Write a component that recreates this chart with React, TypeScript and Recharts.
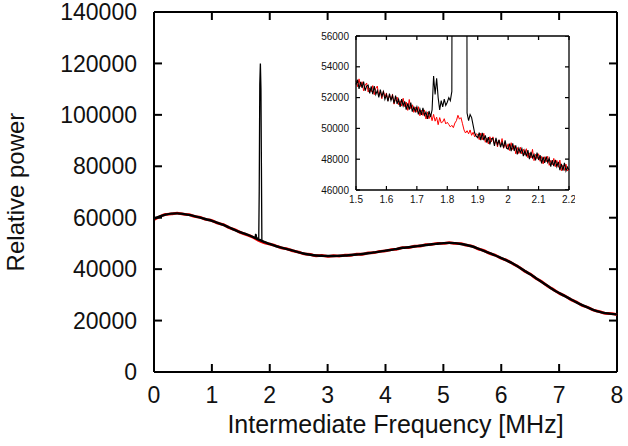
import React from "react";
import { LineChart, Line, XAxis, YAxis, Label, ReferenceLine } from "recharts";

const FONT = '"Liberation Sans", Arial, Helvetica, sans-serif';

// main panel: relative power vs IF, sampled every 0.1 MHz
const MAIN_FREQ = [
  0, 0.1, 0.2, 0.3, 0.4, 0.5, 0.6, 0.7, 0.8, 0.9,
  1, 1.1, 1.2, 1.3, 1.4, 1.5, 1.6, 1.7, 1.8, 1.9,
  2, 2.1, 2.2, 2.3, 2.4, 2.5, 2.6, 2.7, 2.8, 2.9,
  3, 3.1, 3.2, 3.3, 3.4, 3.5, 3.6, 3.7, 3.8, 3.9,
  4, 4.1, 4.2, 4.3, 4.4, 4.5, 4.6, 4.7, 4.8, 4.9,
  5, 5.1, 5.2, 5.3, 5.4, 5.5, 5.6, 5.7, 5.8, 5.9,
  6, 6.1, 6.2, 6.3, 6.4, 6.5, 6.6, 6.7, 6.8, 6.9,
  7, 7.1, 7.2, 7.3, 7.4, 7.5, 7.6, 7.7, 7.8, 7.9,
  8,
];
const MAIN_BLACK = [
  59600, 60500, 61200, 61600, 61700, 61500, 61100, 60600, 60000, 59400,
  58800, 58000, 57200, 56200, 55200, 54300, 53500, 52600, 51600, 50600,
  49800, 49000, 48400, 47800, 47200, 46500, 46000, 45600, 45300, 45200,
  45100, 45100, 45200, 45300, 45500, 45700, 45900, 46200, 46500, 46800,
  47200, 47500, 47900, 48300, 48500, 48800, 49100, 49400, 49700, 49900,
  50100, 50200, 50100, 49800, 49400, 48800, 48000, 47100, 46200, 45300,
  44300, 43300, 42200, 40800, 39400, 38000, 36500, 35000, 33500, 32000,
  30700, 29500, 28300, 27100, 26000, 25000, 24100, 23400, 22900, 22600,
  22400,
];
const MAIN_RED = [
  59300, 60400, 61300, 61500, 61800, 61400, 61200, 60500, 60100, 59300,
  58900, 57900, 57300, 56100, 55300, 54200, 53400, 52500, 51200, 50300,
  49700, 49100, 48300, 47900, 47100, 46600, 45900, 45700, 45200, 45300,
  45000, 45200, 45100, 45400, 45400, 45800, 45800, 46300, 46400, 46900,
  47100, 47600, 47800, 48400, 48400, 48900, 49000, 49500, 49600, 50000,
  50000, 50300, 50000, 49900, 49300, 48900, 47900, 47200, 46100, 45400,
  44200, 43400, 42100, 40900, 39300, 38100, 36400, 35100, 33400, 32100,
  30600, 29600, 28200, 27200, 25900, 25100, 24000, 23500, 22800, 22700,
  22300,
];
// narrow line near 1.8 MHz that only the black trace has
const SPIKE_FREQ = [
  1.7, 1.72, 1.74, 1.748, 1.755, 1.76, 1.766, 1.775, 1.79, 1.81,
  1.818, 1.828, 1.838, 1.848, 1.856, 1.864, 1.875, 1.89, 1.9,
];
const SPIKE_POWER = [
  52600, 52400, 52100, 52300, 53700, 52600, 53500, 51800, 52000, 52200,
  70000, 112000, 120000, 110000, 80000, 51100, 51000, 50700, 50600,
];

const MAIN_X_TICKS = [0, 1, 2, 3, 4, 5, 6, 7, 8];
const MAIN_Y_TICKS = [0, 20000, 40000, 60000, 80000, 100000, 120000, 140000];

// inset: zoom 1.5 - 2.2 MHz, every 0.005 MHz
const INSET_FREQ = [
  1.5, 1.505, 1.51, 1.515, 1.52, 1.525, 1.53, 1.535, 1.54, 1.545,
  1.55, 1.555, 1.56, 1.565, 1.57, 1.575, 1.58, 1.585, 1.59, 1.595,
  1.6, 1.605, 1.61, 1.615, 1.62, 1.625, 1.63, 1.635, 1.64, 1.645,
  1.65, 1.655, 1.66, 1.665, 1.67, 1.675, 1.68, 1.685, 1.69, 1.695,
  1.7, 1.705, 1.71, 1.715, 1.72, 1.725, 1.73, 1.735, 1.74, 1.745,
  1.75, 1.755, 1.76, 1.765, 1.77, 1.775, 1.78, 1.785, 1.79, 1.795,
  1.8, 1.805, 1.81, 1.815, 1.82, 1.825, 1.83, 1.835, 1.84, 1.845,
  1.85, 1.855, 1.86, 1.865, 1.87, 1.875, 1.88, 1.885, 1.89, 1.895,
  1.9, 1.905, 1.91, 1.915, 1.92, 1.925, 1.93, 1.935, 1.94, 1.945,
  1.95, 1.955, 1.96, 1.965, 1.97, 1.975, 1.98, 1.985, 1.99, 1.995,
  2, 2.005, 2.01, 2.015, 2.02, 2.025, 2.03, 2.035, 2.04, 2.045,
  2.05, 2.055, 2.06, 2.065, 2.07, 2.075, 2.08, 2.085, 2.09, 2.095,
  2.1, 2.105, 2.11, 2.115, 2.12, 2.125, 2.13, 2.135, 2.14, 2.145,
  2.15, 2.155, 2.16, 2.165, 2.17, 2.175, 2.18, 2.185, 2.19, 2.195,
  2.2,
];
const INSET_RED = [
  53100, 52710, 53215, 52720, 53030, 52440, 52800, 52950, 52360, 52620,
  52380, 52780, 52190, 52600, 52750, 52110, 52370, 51930, 52440, 52040,
  52300, 51805, 52160, 51865, 52220, 51575, 51880, 52035, 51540, 51795,
  51450, 51955, 51410, 51715, 51170, 51875, 51280, 51535, 51040, 51395,
  51050, 51410, 50820, 51180, 50840, 51200, 50610, 51070, 50630, 50940,
  50500, 50910, 50470, 50730, 50240, 50700, 50360, 50420, 50630, 50290,
  50400, 50250, 50100, 50200, 50050, 50350, 50500, 50850, 50600, 50700,
  50300, 49900, 49700, 49850, 49650, 49900, 49550, 49750, 49450, 49650,
  49600, 49270, 49690, 49260, 49680, 49100, 49370, 48990, 49460, 49130,
  49450, 48965, 49230, 48795, 49260, 48875, 49340, 48705, 49020, 48685,
  49000, 48560, 49070, 48630, 48890, 48350, 48760, 48370, 48780, 48340,
  48650, 48265, 48680, 48095, 48410, 48075, 48640, 47905, 48320, 48035,
  48350, 47865, 48180, 47695, 48160, 47825, 48190, 47605, 47920, 47635,
  48050, 47510, 47920, 47480, 47940, 47250, 47610, 47270, 47680, 47240,
  47400,
];
const INSET_BLACK = [
  52850, 53160, 52565, 53020, 52630, 53040, 52445, 52750, 52810, 52270,
  52725, 52230, 52740, 52200, 52455, 52010, 52520, 52080, 52385, 51890,
  52200, 51755, 52260, 51815, 52120, 51625, 52130, 51585, 51890, 51395,
  51900, 51455, 51760, 51215, 51620, 51225, 51680, 51085, 51390, 51095,
  51400, 50910, 51270, 50880, 51340, 50850, 51060, 50620, 51130, 50740,
  51200, 53400, 52200, 53250, 52000, 51200, 51800, 51400, 51900, 51500,
  51700, 52000, 51800, 52400, 120000, 120000, 120000, 120000, 120000, 120000,
  120000, 120000, 120000, 51000, 50500, 50900, 50700, 50200, 49700, 49500,
  49400, 49720, 49240, 49710, 49230, 49550, 49070, 49440, 48960, 49330,
  49350, 48865, 49380, 48945, 49260, 48775, 49090, 48755, 49220, 48735,
  48650, 49010, 48520, 49030, 48540, 48900, 48310, 48720, 48430, 48690,
  48200, 48565, 48180, 48595, 48010, 48475, 48090, 48305, 47920, 48435,
  47950, 48265, 47730, 48145, 47760, 48175, 47790, 48055, 47520, 47935,
  47550, 47960, 47520, 47830, 47290, 47700, 47260, 47770, 47230, 47490,
  47300,
];
const INSET_X_TICKS = [1.5, 1.6, 1.7, 1.8, 1.9, 2, 2.1, 2.2];
const INSET_Y_TICKS = [46000, 48000, 50000, 52000, 54000, 56000];

const pts = (xs: number[], ys: number[]) => xs.map((f, i) => ({ f, p: ys[i] }));

const mainBlack = pts(MAIN_FREQ, MAIN_BLACK);
const mainRed = pts(MAIN_FREQ, MAIN_RED);
const spike = pts(SPIKE_FREQ, SPIKE_POWER);
const insetRed = pts(INSET_FREQ, INSET_RED);
const insetBlack = pts(INSET_FREQ, INSET_BLACK);

// inward tick on the top / right edges, drawn as the dot of an invisible line
function stub(dx: number, dy: number, w: number) {
  return (props: any) => (
    <path key={props.index} d={`M${props.cx},${props.cy}l${dx},${dy}`} stroke="#000" strokeWidth={w} fill="none" />
  );
}

// top and right edges of the frame, with their ticks
function farEdges(xTicks: number[], yTicks: number[], x1: number, y1: number, len: number, w: number) {
  return [
    <ReferenceLine key="top" xAxisId="b" yAxisId="l" y={y1} stroke="#000" strokeWidth={w} />,
    <ReferenceLine key="right" xAxisId="b" yAxisId="l" x={x1} stroke="#000" strokeWidth={w} />,
    <Line key="tt" xAxisId="b" yAxisId="l" data={xTicks.map((f) => ({ f, p: y1 }))} dataKey="p" stroke="none"
      dot={stub(0, len, w)} isAnimationActive={false} />,
    <Line key="tr" xAxisId="b" yAxisId="l" data={yTicks.map((p) => ({ f: x1, p }))} dataKey="p" stroke="none"
      dot={stub(-len, 0, w)} isAnimationActive={false} />,
  ];
}

function Inset() {
  const axis = { stroke: "#000", strokeWidth: 1.4 };
  const tl = { stroke: "#000", strokeWidth: 1.2 };
  const tick = { fontSize: 10, fontFamily: FONT, fill: "#111" };
  return (
    <div style={{ position: "absolute", left: 300, top: 26 }}>
      <LineChart width={275} height={190} margin={{ top: 10, right: 6, bottom: 0, left: 0 }}>
        <XAxis xAxisId="b" type="number" dataKey="f" domain={[1.5, 2.2]} ticks={INSET_X_TICKS} interval={0}
          height={26} tickSize={-4} tickMargin={10} axisLine={axis} tickLine={tl} tick={tick} />
        <YAxis yAxisId="l" type="number" domain={[46000, 56000]} ticks={INSET_Y_TICKS} interval={0}
          allowDataOverflow width={56} tickSize={-4} tickMargin={11} axisLine={axis} tickLine={tl} tick={tick} />
        {farEdges(INSET_X_TICKS, INSET_Y_TICKS, 2.2, 56000, 4, 1.3)}
        <Line xAxisId="b" yAxisId="l" data={insetRed} dataKey="p" type="linear" stroke="#ff0000"
          strokeWidth={1} dot={false} isAnimationActive={false} />
        <Line xAxisId="b" yAxisId="l" data={insetBlack} dataKey="p" type="linear" stroke="#000"
          strokeWidth={1.1} dot={false} isAnimationActive={false} />
      </LineChart>
    </div>
  );
}

export default function App() {
  const axis = { stroke: "#000", strokeWidth: 2 };
  const tl = { stroke: "#000", strokeWidth: 2 };
  const tick = { fontSize: 23, fontFamily: FONT, fill: "#111" };
  return (
    <div style={{ position: "absolute", left: 0, top: 0 }}>
      <LineChart width={628} height={446} margin={{ top: 12, right: 11, bottom: 0, left: 0 }}>
        <XAxis xAxisId="b" type="number" dataKey="f" domain={[0, 8]} ticks={MAIN_X_TICKS} interval={0}
          height={74} tickSize={-8} tickMargin={23} axisLine={axis} tickLine={tl} tick={tick}>
          <Label value="Intermediate Frequency [MHz]" position="insideBottom" offset={13} dx={10}
            style={{ fontSize: 25, fontFamily: FONT, fill: "#111" }} />
        </XAxis>
        <YAxis yAxisId="l" type="number" domain={[0, 140000]} ticks={MAIN_Y_TICKS} interval={0}
          width={154} tickSize={-8} tickMargin={25} axisLine={axis} tickLine={tl} tick={tick}>
          <Label value="Relative power" angle={-90} position="insideLeft" offset={15}
            style={{ textAnchor: "middle", fontSize: 24, fontFamily: FONT, fill: "#111" }} />
        </YAxis>
        {farEdges(MAIN_X_TICKS, MAIN_Y_TICKS, 8, 140000, 8, 2)}
        <Line xAxisId="b" yAxisId="l" data={mainRed} dataKey="p" type="monotone" stroke="#ff0000"
          strokeWidth={2.8} dot={false} isAnimationActive={false} />
        <Line xAxisId="b" yAxisId="l" data={mainBlack} dataKey="p" type="monotone" stroke="#000"
          strokeWidth={2.4} dot={false} isAnimationActive={false} />
        <Line xAxisId="b" yAxisId="l" data={spike} dataKey="p" type="linear" stroke="#000"
          strokeWidth={1.3} dot={false} isAnimationActive={false} />
      </LineChart>
      <Inset />
    </div>
  );
}
